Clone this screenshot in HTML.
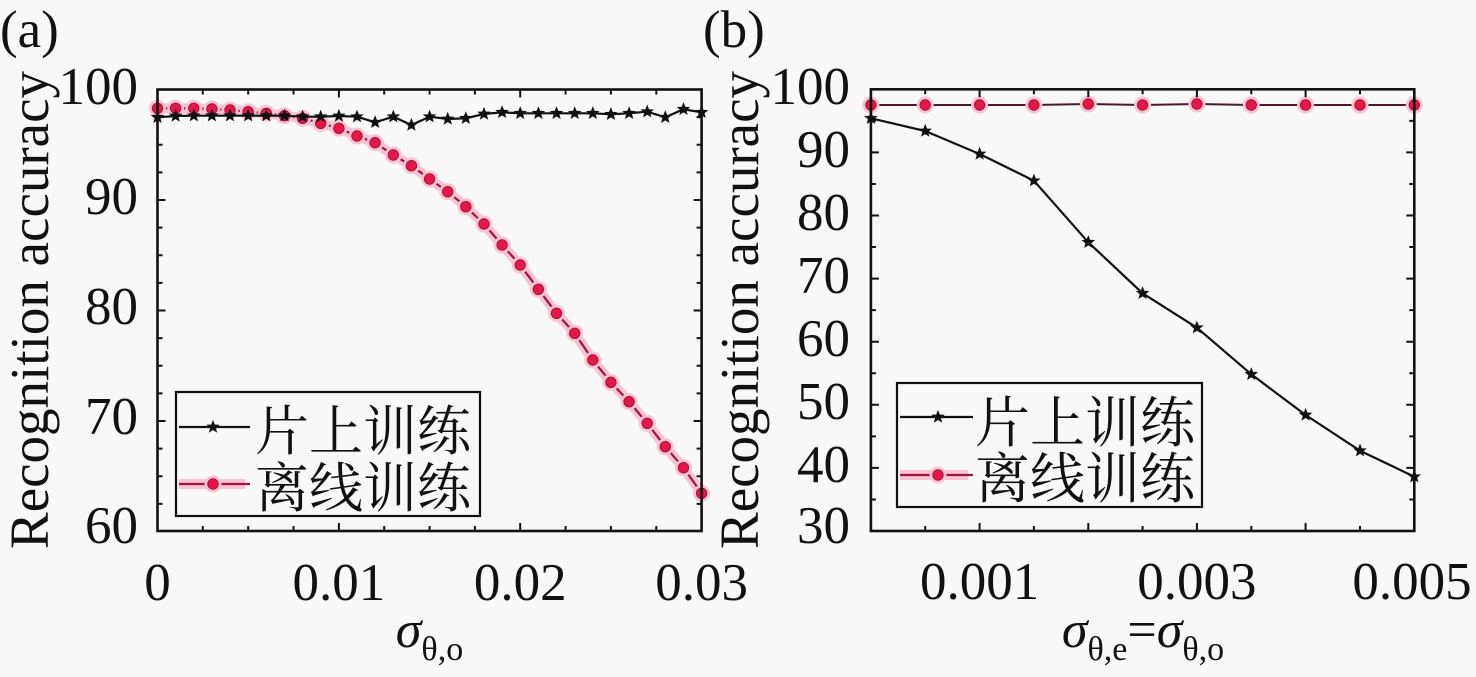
<!DOCTYPE html>
<html><head><meta charset="utf-8"><style>
html,body{margin:0;padding:0;background:#f8f8f8;}
svg{display:block;}
text{font-family:"Liberation Serif","Noto Serif CJK SC",serif;fill:#111;}
.cj{font-family:"Liberation Serif","Noto Serif CJK SC","Noto Sans CJK SC",serif;}
</style></head><body>
<svg width="1476" height="677" viewBox="0 0 1476 677" xmlns="http://www.w3.org/2000/svg">
<defs>
<path id="st" d="M0,-6 L1.53,-2.1 L5.71,-1.85 L2.47,0.8 L3.53,4.85 L0,2.6 L-3.53,4.85 L-2.47,0.8 L-5.71,-1.85 L-1.53,-2.1 Z" fill="#111" stroke="#111" stroke-width="0.8"/>
<g id="rm"><circle r="8.5" fill="#f9c3d3"/><circle r="5.2" fill="#e3174a" stroke="#a8123a" stroke-width="1"/></g>
</defs>
<rect width="1476" height="677" fill="#f8f8f8"/>

<!-- ============ Panel (a) ============ -->
<text x="0" y="47" font-size="53">(a)</text>
<text transform="translate(48,310) rotate(-90)" text-anchor="middle" font-size="55">Recognition accuracy</text>

<!-- red series (a) -->
<polyline fill="none" stroke="#f9c3d3" stroke-width="10" stroke-linejoin="round" points="157.5,108.3 175.6,108.3 193.8,108.3 211.9,109 230,110 248.2,111.7 266.3,113.3 284.5,115.7 302.6,118.3 320.7,123.3 338.9,128.3 357,136 375.1,142.7 393.3,155 411.4,165.7 429.6,179 447.7,191.7 465.8,206.7 484,224 502.1,245 520.2,265 538.4,289.3 556.5,313.3 574.7,333.3 592.8,360 610.9,382.3 629.1,401.7 647.2,423.3 665.3,446.7 683.5,467.7 701.6,493.3"/>
<polyline fill="none" stroke="#9c1640" stroke-width="2.2" stroke-linejoin="round" points="157.5,108.3 175.6,108.3 193.8,108.3 211.9,109 230,110 248.2,111.7 266.3,113.3 284.5,115.7 302.6,118.3 320.7,123.3 338.9,128.3 357,136 375.1,142.7 393.3,155 411.4,165.7 429.6,179 447.7,191.7 465.8,206.7 484,224 502.1,245 520.2,265 538.4,289.3 556.5,313.3 574.7,333.3 592.8,360 610.9,382.3 629.1,401.7 647.2,423.3 665.3,446.7 683.5,467.7 701.6,493.3"/>
<g>
<use href="#rm" x="157.5" y="108.3"/><use href="#rm" x="175.6" y="108.3"/><use href="#rm" x="193.8" y="108.3"/><use href="#rm" x="211.9" y="109"/><use href="#rm" x="230" y="110"/><use href="#rm" x="248.2" y="111.7"/><use href="#rm" x="266.3" y="113.3"/><use href="#rm" x="284.5" y="115.7"/><use href="#rm" x="302.6" y="118.3"/><use href="#rm" x="320.7" y="123.3"/><use href="#rm" x="338.9" y="128.3"/><use href="#rm" x="357" y="136"/><use href="#rm" x="375.1" y="142.7"/><use href="#rm" x="393.3" y="155"/><use href="#rm" x="411.4" y="165.7"/><use href="#rm" x="429.6" y="179"/><use href="#rm" x="447.7" y="191.7"/><use href="#rm" x="465.8" y="206.7"/><use href="#rm" x="484" y="224"/><use href="#rm" x="502.1" y="245"/><use href="#rm" x="520.2" y="265"/><use href="#rm" x="538.4" y="289.3"/><use href="#rm" x="556.5" y="313.3"/><use href="#rm" x="574.7" y="333.3"/><use href="#rm" x="592.8" y="360"/><use href="#rm" x="610.9" y="382.3"/><use href="#rm" x="629.1" y="401.7"/><use href="#rm" x="647.2" y="423.3"/><use href="#rm" x="665.3" y="446.7"/><use href="#rm" x="683.5" y="467.7"/><use href="#rm" x="701.6" y="493.3"/>
</g>

<!-- black series (a) -->
<polyline fill="none" stroke="#111" stroke-width="2.2" stroke-linejoin="round" points="157.5,117.3 175.6,116 193.8,115.7 211.9,115.7 230,115.7 248.2,115.7 266.3,115.7 284.5,115.7 302.6,116.7 320.7,116.7 338.9,116 357,116.7 375.1,122.3 393.3,116.7 411.4,125 429.6,116.7 447.7,119 465.8,118.3 484,114 502.1,112.3 520.2,113.3 538.4,113.3 556.5,113.3 574.7,113.3 592.8,113.3 610.9,114.3 629.1,113.3 647.2,111.7 665.3,117.3 683.5,109.3 701.6,112.3"/>
<g>
<use href="#st" x="157.5" y="117.3"/><use href="#st" x="175.6" y="116"/><use href="#st" x="193.8" y="115.7"/><use href="#st" x="211.9" y="115.7"/><use href="#st" x="230" y="115.7"/><use href="#st" x="248.2" y="115.7"/><use href="#st" x="266.3" y="115.7"/><use href="#st" x="284.5" y="115.7"/><use href="#st" x="302.6" y="116.7"/><use href="#st" x="320.7" y="116.7"/><use href="#st" x="338.9" y="116"/><use href="#st" x="357" y="116.7"/><use href="#st" x="375.1" y="122.3"/><use href="#st" x="393.3" y="116.7"/><use href="#st" x="411.4" y="125"/><use href="#st" x="429.6" y="116.7"/><use href="#st" x="447.7" y="119"/><use href="#st" x="465.8" y="118.3"/><use href="#st" x="484" y="114"/><use href="#st" x="502.1" y="112.3"/><use href="#st" x="520.2" y="113.3"/><use href="#st" x="538.4" y="113.3"/><use href="#st" x="556.5" y="113.3"/><use href="#st" x="574.7" y="113.3"/><use href="#st" x="592.8" y="113.3"/><use href="#st" x="610.9" y="114.3"/><use href="#st" x="629.1" y="113.3"/><use href="#st" x="647.2" y="111.7"/><use href="#st" x="665.3" y="117.3"/><use href="#st" x="683.5" y="109.3"/><use href="#st" x="701.6" y="112.3"/>
</g>

<!-- ticks (a) -->
<g stroke="#111" stroke-width="2">
<!-- x major bottom/top -->
<path d="M338.9,531 v-8 M520.2,531 v-8 M338.9,89.5 v8 M520.2,89.5 v8"/>
<!-- x minor -->
<path d="M202.8,531 v-5 M248.2,531 v-5 M293.5,531 v-5 M384.2,531 v-5 M429.6,531 v-5 M474.9,531 v-5 M565.6,531 v-5 M610.9,531 v-5 M656.3,531 v-5
M202.8,89.5 v5 M248.2,89.5 v5 M293.5,89.5 v5 M384.2,89.5 v5 M429.6,89.5 v5 M474.9,89.5 v5 M565.6,89.5 v5 M610.9,89.5 v5 M656.3,89.5 v5"/>
<!-- y major -->
<path d="M157.5,200 h8 M157.5,310.5 h8 M157.5,421 h8 M701.6,200 h-8 M701.6,310.5 h-8 M701.6,421 h-8"/>
<!-- y minor -->
<path d="M157.5,117.1 h5 M157.5,144.75 h5 M157.5,172.4 h5 M157.5,227.6 h5 M157.5,255.25 h5 M157.5,282.9 h5 M157.5,338.1 h5 M157.5,365.75 h5 M157.5,393.4 h5 M157.5,448.6 h5 M157.5,476.25 h5 M157.5,503.9 h5
M701.6,117.1 h-5 M701.6,144.75 h-5 M701.6,172.4 h-5 M701.6,227.6 h-5 M701.6,255.25 h-5 M701.6,282.9 h-5 M701.6,338.1 h-5 M701.6,365.75 h-5 M701.6,393.4 h-5 M701.6,448.6 h-5 M701.6,476.25 h-5 M701.6,503.9 h-5"/>
</g>
<rect x="157.5" y="89.5" width="544.1" height="441.5" fill="none" stroke="#111" stroke-width="2.6"/>

<!-- tick labels (a) -->
<g font-size="53" text-anchor="end">
<text x="138" y="104">100</text>
<text x="138" y="214">90</text>
<text x="138" y="324">80</text>
<text x="138" y="434">70</text>
<text x="138" y="543">60</text>
</g>
<g font-size="53" text-anchor="middle">
<text x="157.5" y="600">0</text>
<text x="338.9" y="600">0.01</text>
<text x="520.2" y="600">0.02</text>
<text x="701.6" y="600">0.03</text>
</g>
<text x="429.5" y="647" text-anchor="middle" font-size="52"><tspan font-style="italic">σ</tspan><tspan font-size="34" dy="13">θ,o</tspan></text>

<!-- legend (a) -->
<rect x="176" y="392" width="304" height="124" fill="#f8f8f8" stroke="#111" stroke-width="2.2"/>
<line x1="179" y1="427" x2="250" y2="427" stroke="#111" stroke-width="2.2"/>
<use href="#st" x="213" y="427"/>
<text x="255" y="450" font-size="54" class="cj">片上训练</text>
<line x1="179" y1="484" x2="245" y2="484" stroke="#f9c3d3" stroke-width="10"/>
<line x1="179" y1="484" x2="250" y2="484" stroke="#9c1640" stroke-width="2.2"/>
<use href="#rm" x="213" y="484"/>
<text x="255" y="507" font-size="54" class="cj">离线训练</text>

<!-- ============ Panel (b) ============ -->
<text x="703" y="47" font-size="53">(b)</text>
<text transform="translate(758,310) rotate(-90)" text-anchor="middle" font-size="55">Recognition accuracy</text>

<!-- red series (b) -->
<polyline fill="none" stroke="#4a1a28" stroke-width="2" points="870.9,105 925.2,105 979.6,105 1033.9,105 1088.3,104 1142.6,105 1196.9,104 1251.3,105 1305.6,105 1360,105 1414.3,105"/>
<g>
<use href="#rm" x="870.9" y="105"/><use href="#rm" x="925.2" y="105"/><use href="#rm" x="979.6" y="105"/><use href="#rm" x="1033.9" y="105"/><use href="#rm" x="1088.3" y="104"/><use href="#rm" x="1142.6" y="105"/><use href="#rm" x="1196.9" y="104"/><use href="#rm" x="1251.3" y="105"/><use href="#rm" x="1305.6" y="105"/><use href="#rm" x="1360" y="105"/><use href="#rm" x="1414.3" y="105"/>
</g>
<!-- black series (b) -->
<polyline fill="none" stroke="#111" stroke-width="2.2" stroke-linejoin="round" points="870.9,118.3 925.2,131 979.6,154 1033.9,180.7 1088.3,242.3 1142.6,293.3 1196.9,327.7 1251.3,374.3 1305.6,415 1360,450.7 1414.3,476.7"/>
<g>
<use href="#st" x="870.9" y="118.3"/><use href="#st" x="925.2" y="131"/><use href="#st" x="979.6" y="154"/><use href="#st" x="1033.9" y="180.7"/><use href="#st" x="1088.3" y="242.3"/><use href="#st" x="1142.6" y="293.3"/><use href="#st" x="1196.9" y="327.7"/><use href="#st" x="1251.3" y="374.3"/><use href="#st" x="1305.6" y="415"/><use href="#st" x="1360" y="450.7"/><use href="#st" x="1414.3" y="476.7"/>
</g>

<!-- ticks (b) -->
<g stroke="#111" stroke-width="2">
<path d="M979.6,531 v-8 M1088.3,531 v-8 M1196.9,531 v-8 M1305.6,531 v-8 M979.6,89.3 v8 M1088.3,89.3 v8 M1196.9,89.3 v8 M1305.6,89.3 v8"/>
<path d="M925.2,531 v-5 M1033.9,531 v-5 M1142.6,531 v-5 M1251.3,531 v-5 M1360,531 v-5 M925.2,89.3 v5 M1033.9,89.3 v5 M1142.6,89.3 v5 M1251.3,89.3 v5 M1360,89.3 v5"/>
<path d="M870.9,152.4 h8 M870.9,215.5 h8 M870.9,278.6 h8 M870.9,341.7 h8 M870.9,404.8 h8 M870.9,467.9 h8
M1414.3,152.4 h-8 M1414.3,215.5 h-8 M1414.3,278.6 h-8 M1414.3,341.7 h-8 M1414.3,404.8 h-8 M1414.3,467.9 h-8"/>
<path d="M870.9,120.85 h5 M870.9,183.95 h5 M870.9,247.05 h5 M870.9,310.15 h5 M870.9,373.25 h5 M870.9,436.35 h5 M870.9,499.45 h5
M1414.3,120.85 h-5 M1414.3,183.95 h-5 M1414.3,247.05 h-5 M1414.3,310.15 h-5 M1414.3,373.25 h-5 M1414.3,436.35 h-5 M1414.3,499.45 h-5"/>
</g>
<rect x="870.9" y="89.3" width="543.4" height="441.7" fill="none" stroke="#111" stroke-width="2.6"/>

<!-- tick labels (b) -->
<g font-size="53" text-anchor="end">
<text x="850" y="104">100</text>
<text x="850" y="167">90</text>
<text x="850" y="230">80</text>
<text x="850" y="293">70</text>
<text x="850" y="356">60</text>
<text x="850" y="419">50</text>
<text x="850" y="482">40</text>
<text x="850" y="543">30</text>
</g>
<g font-size="53" text-anchor="middle">
<text x="979.6" y="599">0.001</text>
<text x="1196.9" y="599">0.003</text>
<text x="1412" y="599">0.005</text>
</g>
<text x="1143" y="647" text-anchor="middle" font-size="52"><tspan font-style="italic">σ</tspan><tspan font-size="34" dy="13">θ,e</tspan><tspan font-size="52" dy="-13">=</tspan><tspan font-style="italic">σ</tspan><tspan font-size="34" dy="13">θ,o</tspan></text>

<!-- legend (b) -->
<rect x="897" y="383" width="305" height="124" fill="#f8f8f8" stroke="#111" stroke-width="2.2"/>
<line x1="900" y1="417" x2="973" y2="417" stroke="#111" stroke-width="2.2"/>
<use href="#st" x="938" y="417"/>
<text x="975" y="442" font-size="55" class="cj">片上训练</text>
<line x1="900" y1="475" x2="968" y2="475" stroke="#f9c3d3" stroke-width="10"/>
<line x1="900" y1="475" x2="973" y2="475" stroke="#9c1640" stroke-width="2.2"/>
<use href="#rm" x="938" y="475"/>
<text x="975" y="498" font-size="55" class="cj">离线训练</text>
</svg>
</body></html>
